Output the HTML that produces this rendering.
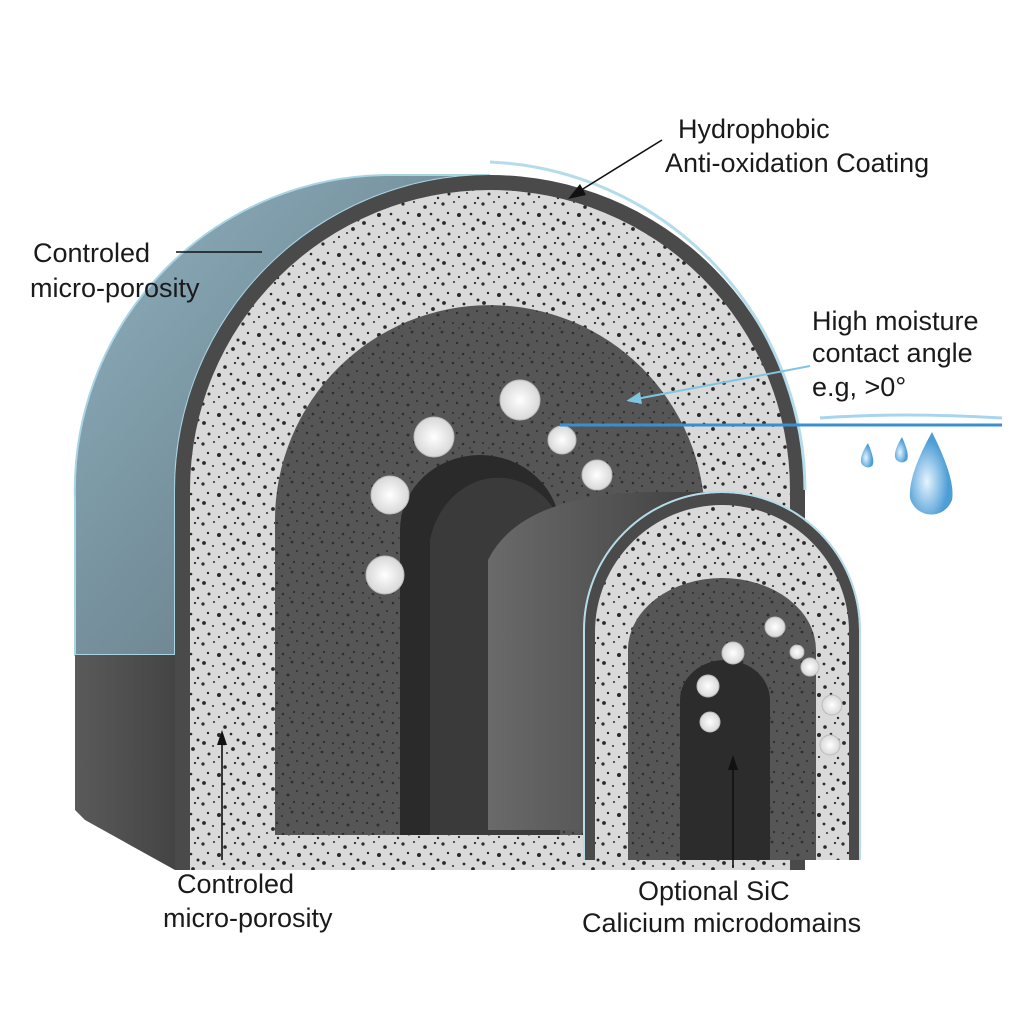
<!DOCTYPE html>
<html><head><meta charset="utf-8"><style>
html,body{margin:0;padding:0;background:#fff}
svg{display:block}
text{font-family:"Liberation Sans",sans-serif;fill:#1a1a1a}
</style></head><body>
<svg width="1024" height="1024" viewBox="0 0 1024 1024" xmlns="http://www.w3.org/2000/svg">
<defs>
<pattern id="lt" width="40" height="40" patternUnits="userSpaceOnUse">
<rect width="40" height="40" fill="#d9d9d9"/>
<g fill="#2a2a2a">
<circle cx="3" cy="4" r="1.6"/><circle cx="14" cy="2" r="1"/><circle cx="25" cy="7" r="1.8"/><circle cx="35" cy="3" r="1.1"/>
<circle cx="8" cy="13" r="1.2"/><circle cx="19" cy="15" r="2"/><circle cx="31" cy="14" r="1.3"/><circle cx="38" cy="20" r="1.5"/>
<circle cx="4" cy="23" r="1.9"/><circle cx="13" cy="26" r="1"/><circle cx="24" cy="24" r="1.4"/><circle cx="33" cy="29" r="1.9"/>
<circle cx="9" cy="34" r="1.5"/><circle cx="19" cy="37" r="1.1"/><circle cx="27" cy="33" r="1"/><circle cx="38" cy="38" r="1.2"/>
</g></pattern>
<pattern id="dk" width="30" height="30" patternUnits="userSpaceOnUse">
<rect width="30" height="30" fill="#565656"/>
<g fill="#2e2e2e">
<circle cx="3" cy="3" r="1.3"/><circle cx="12" cy="6" r="1"/><circle cx="22" cy="2" r="1.4"/><circle cx="7" cy="13" r="1.2"/>
<circle cx="18" cy="15" r="1.5"/><circle cx="27" cy="11" r="1"/><circle cx="3" cy="23" r="1"/><circle cx="13" cy="24" r="1.3"/>
<circle cx="24" cy="22" r="1.1"/><circle cx="20" cy="28" r="0.9"/><circle cx="9" cy="28" r="0.8"/>
</g></pattern>
<linearGradient id="glass" x1="0" y1="0" x2="1" y2="1">
<stop offset="0" stop-color="#8fb0bf"/><stop offset="1" stop-color="#5c707a"/></linearGradient>
<linearGradient id="side" x1="0" y1="0" x2="1" y2="0">
<stop offset="0" stop-color="#5a5a5a"/><stop offset="1" stop-color="#444"/></linearGradient>
<linearGradient id="side2" x1="0" y1="0" x2="1" y2="0">
<stop offset="0" stop-color="#6a6a6a"/><stop offset="0.6" stop-color="#505050"/><stop offset="1" stop-color="#3c3c3c"/></linearGradient>
<radialGradient id="blob"><stop offset="0" stop-color="#fff"/><stop offset="1" stop-color="#d8d8d8"/></radialGradient>
<radialGradient id="drop" cx="0.4" cy="0.6"><stop offset="0" stop-color="#e6f4ff"/><stop offset="1" stop-color="#4d9dd6"/></radialGradient>
</defs>

<path d="M75 655 L75 500 A315 315 0 0 1 390 175 L490 175 A315 315 0 0 0 175 490 L175 655 Z" fill="url(#glass)" stroke="#a8d4e4" stroke-width="2"/>
<path d="M75 655 L175 655 L175 870 L85 820 L75 810 Z" fill="url(#side)"/>
<path d="M175 870 L175 490 A315 315 0 0 1 805 490 L805 870 Z" fill="#4a4a4a"/>
<path d="M190 870 L190 490 A300 300 0 0 1 790 490 L790 870 Z" fill="url(#lt)"/>
<path d="M275 835 L275 520 A215 215 0 0 1 705 520 L705 835 Z" fill="url(#dk)"/>
<path d="M400 835 L400 530 A80 75 0 0 1 560 530 L560 835 Z" fill="#2a2a2a"/>
<path d="M430 835 L430 540 A70 80 0 0 1 560 520 L560 835 Z" fill="#3a3a3a"/>
<path d="M805 490 A330 330 0 0 0 490 162" fill="none" stroke="#b4dcea" stroke-width="3"/>

<path d="M488 830 L488 560 Q520 495 650 492 L720 492 A135 135 0 0 0 585 630 L585 830 Z" fill="url(#side2)"/>
<path d="M585 860 L585 630 A137 137 0 0 1 859 630 L859 860 Z" fill="#4a4a4a"/>
<path d="M595 860 L595 632 A127 127 0 0 1 849 632 L849 860 Z" fill="url(#lt)"/>
<path d="M628 860 L628 650 A94 72 0 0 1 816 650 L816 860 Z" fill="url(#dk)"/>
<path d="M680 860 L680 700 A45 40 0 0 1 770 700 L770 860 Z" fill="#2c2c2c"/>
<path d="M584 860 L584 630 A138 138 0 0 1 860 630 L860 860" fill="none" stroke="#b4dcea" stroke-width="2"/>

<g fill="url(#blob)" stroke="#bbb" stroke-width="1">
<circle cx="520" cy="400" r="20"/><circle cx="434" cy="437" r="20"/><circle cx="390" cy="495" r="19"/><circle cx="385" cy="575" r="19"/>
<circle cx="562" cy="440" r="14"/><circle cx="597" cy="475" r="15"/>
<circle cx="775" cy="627" r="10"/><circle cx="733" cy="653" r="11"/><circle cx="797" cy="652" r="7"/><circle cx="810" cy="667" r="9"/>
<circle cx="708" cy="686" r="11"/><circle cx="710" cy="722" r="10"/><circle cx="832" cy="705" r="10"/><circle cx="830" cy="745" r="10"/>
</g>

<line x1="560" y1="425" x2="1002" y2="425" stroke="#3b8fd0" stroke-width="3"/>
<path d="M820 418 Q900 412 1002 418" stroke="#a8d4f0" stroke-width="3" fill="none"/>
<path d="M868 443 Q876 462 872 466 A7 7 0 0 1 861 462 Q860 455 868 443Z" fill="url(#drop)"/>
<path d="M902 437 Q910 455 907 460 A7 7 0 0 1 895 457 Q894 450 902 437Z" fill="url(#drop)"/>
<path d="M932 432 Q956 480 952 500 A22 22 0 0 1 910 498 Q908 475 932 432Z" fill="url(#drop)"/>

<g stroke="#111" stroke-width="1.6" fill="none">
<line x1="662" y1="140" x2="578" y2="192"/>
<line x1="176" y1="252" x2="262" y2="252"/>
<line x1="222" y1="860" x2="222" y2="740"/>
<line x1="733" y1="868" x2="733" y2="765"/>
</g>
<g fill="#111">
<path d="M568 199 L580 184 L586 195 Z"/>
<path d="M217 745 L222 730 L227 745 Z"/>
<path d="M728 770 L733 755 L738 770 Z"/>
</g>
<line x1="810" y1="366" x2="636" y2="399" stroke="#7fc4e0" stroke-width="2"/>
<path d="M626 401 L640 392 L642 404 Z" fill="#7fc4e0"/>

<g font-size="27">
<text x="678" y="138">Hydrophobic</text>
<text x="665" y="172">Anti-oxidation Coating</text>
<text x="33" y="262">Controled</text>
<text x="30" y="297">micro-porosity</text>
<text x="812" y="330">High moisture</text>
<text x="812" y="362">contact angle</text>
<text x="812" y="396">e.g,  &gt;0°</text>
<text x="177" y="893">Controled</text>
<text x="163" y="927">micro-porosity</text>
<text x="638" y="900">Optional SiC</text>
<text x="582" y="932">Calicium microdomains</text>
</g>
</svg>
</body></html>
